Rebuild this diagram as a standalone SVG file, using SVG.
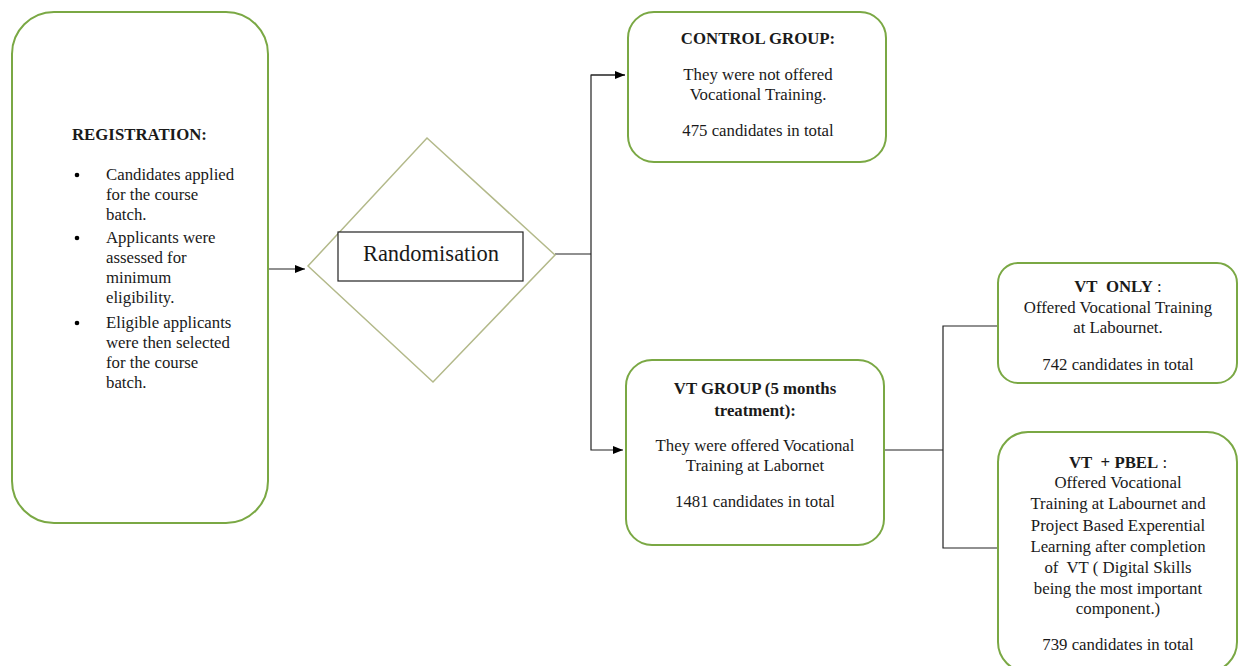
<svg xmlns="http://www.w3.org/2000/svg" width="1238" height="666" viewBox="0 0 1238 666">
<defs>
<marker id="ah" viewBox="0 0 10 10" refX="10" refY="5" markerWidth="10" markerHeight="10" markerUnits="userSpaceOnUse" orient="auto">
<path d="M0,1 L10,5 L0,9 z" fill="#000"/>
</marker>
</defs>
<style>
.box{fill:#fff;stroke:#7aa844;stroke-width:2}
.dia{fill:#fff;stroke:#b3b98a;stroke-width:1.5}
.t{font-family:"Liberation Serif",serif;font-size:16.8px;fill:#1a1a1a}
.c{text-anchor:middle}
.b{font-weight:bold}
.conn{fill:none;stroke:#222;stroke-width:1.2}
</style>
<rect width="1238" height="666" fill="#fff"/>
<g id="connectors">
<line class="conn" x1="268" y1="269" x2="305" y2="269" marker-end="url(#ah)"/>
<polyline class="conn" points="555,254 591,254"/>
<polyline class="conn" points="625,75 591,75 591,450 623,450" marker-end="url(#ah)"/>
<line class="conn" x1="591" y1="75" x2="625" y2="75" marker-end="url(#ah)"/>
<polyline class="conn" points="884,450 943,450"/>
<polyline class="conn" points="998,326 943,326 943,548 998,548"/>
</g>
<g id="registration">
<rect class="box" x="12" y="12" width="256" height="511" rx="42"/>
<text class="t b" x="72" y="140">REGISTRATION:</text>
<g class="t">
<circle cx="77" cy="175" r="2.3" fill="#000"/>
<text x="106" y="180">Candidates applied</text>
<text x="106" y="200">for the course</text>
<text x="106" y="220">batch.</text>
<circle cx="77" cy="238" r="2.3" fill="#000"/>
<text x="106" y="243">Applicants were</text>
<text x="106" y="263">assessed for</text>
<text x="106" y="283">minimum</text>
<text x="106" y="303">eligibility.</text>
<circle cx="77" cy="323" r="2.3" fill="#000"/>
<text x="106" y="328">Eligible applicants</text>
<text x="106" y="348">were then selected</text>
<text x="106" y="368">for the course</text>
<text x="106" y="388">batch.</text>
</g>
</g>
<g id="randomisation">
<polygon class="dia" points="427,138 555,255 433,382 308,266"/>
<rect x="338" y="232" width="185" height="49" fill="#fff" stroke="#222" stroke-width="1.2"/>
<text class="t c" x="431" y="261" style="font-size:22.5px">Randomisation</text>
</g>
<g id="control">
<rect class="box" x="628" y="12" width="258" height="150" rx="26"/>
<text class="t c b" x="758" y="44">CONTROL GROUP:</text>
<text class="t c" x="758" y="80">They were not offered</text>
<text class="t c" x="758" y="100">Vocational Training.</text>
<text class="t c" x="758" y="136">475 candidates in total</text>
</g>
<g id="vtgroup">
<rect class="box" x="626" y="360" width="258" height="185" rx="26"/>
<text class="t c b" x="755" y="394">VT GROUP (5 months</text>
<text class="t c b" x="755" y="416">treatment):</text>
<text class="t c" x="755" y="451">They were offered Vocational</text>
<text class="t c" x="755" y="471">Training at Labornet</text>
<text class="t c" x="755" y="507">1481 candidates in total</text>
</g>
<g id="vtonly">
<rect class="box" x="998" y="263" width="239" height="120" rx="20"/>
<text class="t c" x="1118" y="292"><tspan class="b">VT&#160; ONLY</tspan> :</text>
<text class="t c" x="1118" y="313">Offered Vocational Training</text>
<text class="t c" x="1118" y="333">at Labournet.</text>
<text class="t c" x="1118" y="370">742 candidates in total</text>
</g>
<g id="vtpbel">
<rect class="box" x="998" y="432" width="239" height="240" rx="30"/>
<text class="t c" x="1118" y="468"><tspan class="b">VT&#160; + PBEL</tspan> :</text>
<text class="t c" x="1118" y="488">Offered Vocational</text>
<text class="t c" x="1118" y="509">Training at Labournet and</text>
<text class="t c" x="1118" y="531">Project Based Experential</text>
<text class="t c" x="1118" y="552">Learning after completion</text>
<text class="t c" x="1118" y="573">of&#160; VT ( Digital Skills</text>
<text class="t c" x="1118" y="594">being the most important</text>
<text class="t c" x="1118" y="614">component.)</text>
<text class="t c" x="1118" y="650">739 candidates in total</text>
</g>
</svg>
